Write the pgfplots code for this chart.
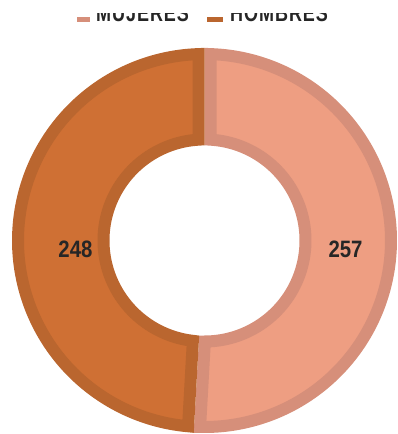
\documentclass[border=0pt]{standalone}
\usepackage{pgfplots}
\pgfplotsset{compat=1.18}
\usepackage{pgfplotstable}
\usepackage{fontspec}
\setmainfont{Liberation Sans}
\newfontfamily\condfont{Liberation Sans}[FakeStretch=0.86]
\newfontfamily\legfont{Liberation Sans}[FakeStretch=0.75, LetterSpace=4]

\definecolor{mujFill}{RGB}{238,158,130}
\definecolor{mujEdge}{RGB}{214,143,122}
\definecolor{homFill}{RGB}{207,112,52}
\definecolor{homEdge}{RGB}{186,102,47}
\definecolor{labelText}{RGB}{38,38,38}

% counts per group
\pgfplotstableread{
label value
MUJERES 257
HOMBRES 248
}\donutdata
\pgfplotstablegetelem{0}{value}\of\donutdata \let\vM\pgfplotsretval
\pgfplotstablegetelem{1}{value}\of\donutdata \let\vH\pgfplotsretval

% ring geometry (axis units = pt)
\def\ringCx{204.5}\def\ringCy{193.5}
\def\ringOuter{192.5}\def\ringInner{95}\def\ringEdge{12}
\pgfmathsetmacro\total{\vM+\vH}
\pgfmathsetmacro\share{\vM/\total}
\pgfmathsetmacro\splitAng{90-360*\share}
% the edge is stroked centred on the path, so the path sits half an edge inside
\pgfmathsetmacro\Ro{\ringOuter-\ringEdge/2}
\pgfmathsetmacro\Ri{\ringInner+\ringEdge/2}
\pgfmathsetmacro\dO{asin(\ringEdge/2/\Ro)}
\pgfmathsetmacro\dI{asin(\ringEdge/2/\Ri)}
% MUJERES: clockwise from the top to \splitAng
\pgfmathsetmacro\mOa{90-\dO}\pgfmathsetmacro\mOb{\splitAng+\dO}
\pgfmathsetmacro\mIa{\splitAng+\dI}\pgfmathsetmacro\mIb{90-\dI}
% HOMBRES: the rest of the ring
\pgfmathsetmacro\hOa{\splitAng+360-\dO}\pgfmathsetmacro\hOb{90+\dO}
\pgfmathsetmacro\hIa{90+\dI}\pgfmathsetmacro\hIb{\splitAng+360-\dI}

% ring sector: t in [0,1] runs along the outer arc, t in (1,2] back along the inner arc
\newcommand\ringsector[5]{%
  \addplot[#1, line width=\ringEdge pt, line join=miter, forget plot,
    domain=0:2, samples=401, variable=\t]
  ({\ringCx + ((\t<=1) ? \Ro*cos(#2+(#3-#2)*\t) : \Ri*cos(#4+(#5-#4)*(\t-1.005)/0.995))},
   {\ringCy + ((\t<=1) ? \Ro*sin(#2+(#3-#2)*\t) : \Ri*sin(#4+(#5-#4)*(\t-1.005)/0.995))})
  -- cycle;}

\begin{document}
\begin{tikzpicture}
\useasboundingbox (0,0) rectangle (397pt,434pt);
\begin{axis}[
  scale only axis, width=397pt, height=434pt,
  xmin=0, xmax=397, ymin=0, ymax=434,
  hide axis, clip=false,
]
\ringsector{fill=mujFill, draw=mujEdge}{\mOa}{\mOb}{\mIa}{\mIb}
\ringsector{fill=homFill, draw=homEdge}{\hOa}{\hOb}{\hIa}{\hIb}

% value labels
\node[font=\condfont\bfseries\fontsize{23.7}{24}\selectfont, text=labelText]
  at (axis cs:75.5,184.5) {\vH};
\node[font=\condfont\bfseries\fontsize{23.7}{24}\selectfont, text=labelText]
  at (axis cs:345.5,184.5) {\vM};

% legend row along the top edge
\fill[mujEdge] (axis cs:77,412) rectangle (axis cs:90,417);
\node[anchor=base west, inner sep=0pt, text=labelText,
  font=\legfont\bfseries\fontsize{24}{24}\selectfont] at (axis cs:96,412) {MUJERES};
\fill[homEdge] (axis cs:207,412) rectangle (axis cs:223,417);
\node[anchor=base west, inner sep=0pt, text=labelText,
  font=\legfont\bfseries\fontsize{24}{24}\selectfont] at (axis cs:230,412) {HOMBRES};
\end{axis}
% the page starts part-way down the legend row
\fill[white] (0pt,421pt) rectangle (397pt,434pt);
\end{tikzpicture}
\end{document}
